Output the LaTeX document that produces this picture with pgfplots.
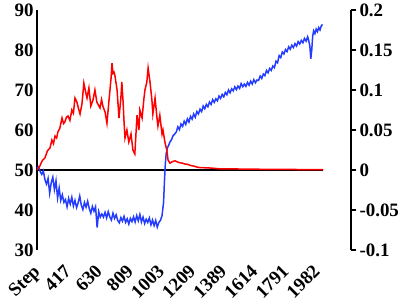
\documentclass[border=0pt]{standalone}
\usepackage{fontspec}
\setmainfont{Liberation Serif}
\usepackage{pgfplots}
\pgfplotsset{compat=1.18}
\definecolor{myblue}{RGB}{35,60,255}
\definecolor{myred}{RGB}{255,0,0}
\begin{document}
\begin{tikzpicture}
\useasboundingbox (-37bp,-50bp) rectangle (370bp,250bp);
\pgfplotsset{common/.style={
  scale only axis, width=314bp, height=240bp,
  xmin=0, xmax=9.92,
  tick label style={font=\fontsize{19}{19}\selectfont\bfseries},
  axis line style={line width=1.6bp, black},
  clip=false,
}}
\begin{axis}[common,
  ymin=30, ymax=90,
  axis y line*=left, axis x line*=bottom,
  x axis line style={draw=none},
  xtick={0,0.983,1.966,2.949,3.932,4.915,5.898,6.881,7.864,8.847},
  xticklabels={\textbf{Step},\textbf{417},\textbf{630},\textbf{809},\textbf{1003},\textbf{1209},\textbf{1389},\textbf{1614},\textbf{1791},\textbf{1982}},
  xticklabel style={xshift=-5bp, yshift=-12bp, rotate=45, anchor=north east, inner sep=1bp},
  ytick={30,40,...,90},
  yticklabels={\textbf{30},\textbf{40},\textbf{50},\textbf{60},\textbf{70},\textbf{80},\textbf{90}},
  major tick length=0pt,
]
\addplot[black, line width=1.8bp, no markers] coordinates {(0,50) (9.05,50)};
\addplot[myblue, line width=1.5bp, no markers] coordinates {
(0.00,50.5) (0.05,50.8) (0.10,49.6) (0.15,48.9) (0.20,49.8) (0.25,47.6) (0.30,46.5) (0.35,47.9)
(0.40,44.2) (0.45,46.8) (0.50,48.2) (0.55,45.1) (0.60,47.3) (0.65,43.0) (0.70,45.5) (0.75,42.4)
(0.80,43.8) (0.85,41.9) (0.90,42.6) (0.95,40.8) (1.00,42.9) (1.05,41.5) (1.10,43.2) (1.15,41.0)
(1.20,42.4) (1.25,40.6) (1.30,41.8) (1.35,43.5) (1.40,41.2) (1.45,40.1) (1.50,41.9) (1.55,40.7)
(1.60,42.2) (1.65,40.4) (1.70,39.2) (1.75,40.9) (1.80,39.7) (1.85,40.8) (1.90,35.6) (1.95,39.6)
(2.00,38.2) (2.05,39.0) (2.10,38.2) (2.15,39.4) (2.20,38.0) (2.25,39.6) (2.30,38.3) (2.35,37.5)
(2.40,39.2) (2.45,37.9) (2.50,38.8) (2.55,37.4) (2.60,36.8) (2.65,38.1) (2.70,37.2) (2.75,38.4)
(2.80,36.9) (2.85,37.8) (2.90,36.5) (2.95,37.9) (3.00,37.1) (3.05,38.3) (3.10,37.0) (3.15,38.6)
(3.20,37.3) (3.25,38.9) (3.30,37.0) (3.35,38.2) (3.40,36.6) (3.45,37.7) (3.50,36.9) (3.55,38.0)
(3.60,36.3) (3.65,37.5) (3.70,36.1) (3.75,37.4) (3.80,35.7) (3.85,36.9) (3.90,37.4) (3.95,38.6)
(4.00,42.0) (4.02,46.0) (4.05,51.0) (4.08,54.0) (4.12,55.5) (4.16,56.2) (4.20,57.0) (4.25,57.6)
(4.30,58.6) (4.35,59.0) (4.40,59.5) (4.45,60.8) (4.50,60.1) (4.55,61.5) (4.60,60.9) (4.65,62.2)
(4.70,61.4) (4.75,62.8) (4.80,62.0) (4.85,63.4) (4.90,62.7) (4.95,64.0) (5.00,63.2) (5.05,64.6)
(5.10,64.0) (5.15,65.2) (5.20,64.6) (5.25,66.0) (5.30,65.3) (5.35,66.4) (5.40,65.8) (5.45,67.0)
(5.50,66.4) (5.55,67.6) (5.60,66.9) (5.65,67.8) (5.70,67.3) (5.75,68.5) (5.80,67.9) (5.85,68.9)
(5.90,68.3) (5.95,69.4) (6.00,68.8) (6.05,70.0) (6.10,69.3) (6.15,70.3) (6.20,69.8) (6.25,70.8)
(6.30,70.1) (6.35,71.0) (6.40,70.4) (6.45,71.6) (6.50,70.8) (6.55,71.5) (6.60,70.9) (6.65,71.9)
(6.70,71.2) (6.75,72.2) (6.80,71.5) (6.85,72.6) (6.90,71.8) (6.95,72.5) (7.00,72.4) (7.05,73.5)
(7.10,72.9) (7.15,74.0) (7.20,73.6) (7.25,74.9) (7.30,74.3) (7.35,75.4) (7.40,74.9) (7.45,76.0)
(7.50,75.6) (7.55,77.2) (7.60,76.8) (7.65,78.6) (7.70,78.1) (7.75,79.5) (7.80,79.0) (7.85,80.1)
(7.90,79.6) (7.95,80.8) (8.00,80.2) (8.05,81.2) (8.10,80.6) (8.15,81.6) (8.20,81.0) (8.25,82.1)
(8.30,81.5) (8.35,82.4) (8.40,81.8) (8.45,82.9) (8.50,82.2) (8.55,83.3) (8.58,82.5) (8.62,81.0)
(8.65,77.8) (8.68,80.0) (8.71,83.5) (8.74,84.8) (8.78,84.1) (8.82,85.2) (8.86,84.6) (8.90,85.6)
(8.94,85.0) (8.98,86.0) (9.02,86.4)
};
\end{axis}
\begin{axis}[common,
  ymin=-0.1, ymax=0.2,
  axis y line*=right, axis x line=none,
  ytick={-0.1,-0.05,0,0.05,0.1,0.15,0.2},
  yticklabels={\textbf{-0.1},\textbf{-0.05},\textbf{0},\textbf{0.05},\textbf{0.1},\textbf{0.15},\textbf{0.2}},
  tick align=outside, major tick length=5bp,
  tick style={line width=1.6bp, black},
]
\addplot[myred, line width=1.5bp, no markers] coordinates {
(0.00,0) (0.09,0.005) (0.17,0.012) (0.25,0.015) (0.33,0.024) (0.41,0.0275) (0.47,0.0375) (0.52,0.033)
(0.57,0.0425) (0.62,0.040) (0.66,0.0475) (0.72,0.052) (0.79,0.065) (0.84,0.058) (0.88,0.06) (0.93,0.066)
(0.98,0.0675) (1.04,0.062) (1.10,0.075) (1.15,0.071) (1.20,0.09) (1.26,0.085) (1.30,0.0785) (1.36,0.07)
(1.42,0.0825) (1.48,0.1085) (1.55,0.095) (1.58,0.09) (1.64,0.1025) (1.70,0.08) (1.77,0.0875) (1.83,0.1)
(1.89,0.085) (1.99,0.0775) (2.04,0.088) (2.08,0.08) (2.15,0.0725) (2.21,0.0585) (2.27,0.085) (2.34,0.115)
(2.37,0.1335) (2.40,0.121) (2.43,0.1225) (2.46,0.1185) (2.53,0.1) (2.59,0.065) (2.65,0.09) (2.68,0.11)
(2.72,0.085) (2.75,0.06) (2.78,0.04) (2.84,0.05) (2.90,0.035) (2.97,0.045) (3.03,0.025) (3.09,0.02)
(3.16,0.0685) (3.22,0.05) (3.25,0.075) (3.32,0.065) (3.38,0.09) (3.41,0.1) (3.47,0.11) (3.51,0.1275)
(3.57,0.11) (3.63,0.0875) (3.66,0.07) (3.73,0.09) (3.79,0.065) (3.82,0.055) (3.88,0.0685) (3.95,0.045)
(3.98,0.05) (4.04,0.035) (4.10,0.025) (4.14,0.0125) (4.20,0.0085) (4.28,0.0105) (4.36,0.0115) (4.44,0.010)
(4.52,0.009) (4.60,0.0085) (4.67,0.0075) (4.75,0.0072) (4.83,0.006) (4.91,0.0052) (4.99,0.0045) (5.07,0.0035)
(5.15,0.003) (5.30,0.0028) (5.46,0.0025) (5.62,0.002) (5.78,0.0015) (6.09,0.0015) (6.40,0.0012) (6.73,0.001)
(7.20,0.0009) (7.67,0.00075) (8.30,0.0006) (9.05,0.0005)
};
\end{axis}
\end{tikzpicture}
\end{document}
